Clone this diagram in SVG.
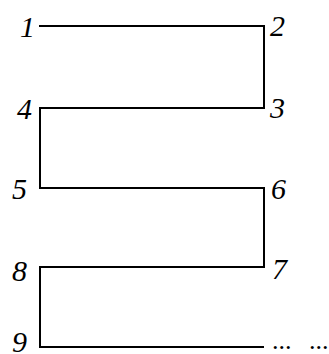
<svg xmlns="http://www.w3.org/2000/svg" width="329" height="354" viewBox="0 0 329 354">
<style>
.lbl{font-family:"Liberation Serif","Times New Roman",serif;font-style:italic;font-size:30px;fill:#000}
.dots{font-family:"Liberation Serif","Times New Roman",serif;font-size:26px;fill:#000}
.ln{fill:none;stroke:#000;stroke-width:2;stroke-linejoin:miter}
</style>
<rect width="329" height="354" fill="#fff"/>
<g id="connectors">
<path class="ln" d="M39,26 H264 V108 H40 V188 H264 V267 H40 V347 H264"/>
</g>
<g id="n1"><text class="lbl" x="20" y="37">1</text></g>
<g id="n2"><text class="lbl" x="270" y="36">2</text></g>
<g id="n3"><text class="lbl" x="270" y="118">3</text></g>
<g id="n4"><text class="lbl" x="17" y="119">4</text></g>
<g id="n5"><text class="lbl" x="12" y="199">5</text></g>
<g id="n6"><text class="lbl" x="271" y="199">6</text></g>
<g id="n7"><text class="lbl" x="272" y="279">7</text></g>
<g id="n8"><text class="lbl" x="12" y="281">8</text></g>
<g id="n9"><text class="lbl" x="12" y="352">9</text></g>
<g id="cont"><text class="dots" x="272" y="349">...</text><text class="dots" x="309" y="349">...</text></g>
</svg>
